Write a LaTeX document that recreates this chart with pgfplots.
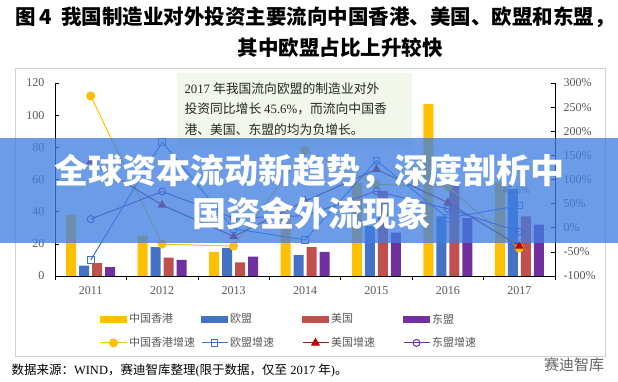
\documentclass[border=0pt]{standalone}
\usepackage{fontspec}
\usepackage{pgfplots}
\pgfplotsset{compat=1.18}
\setmainfont{Liberation Serif}
\newfontfamily\cjk{Noto Sans CJK SC}
\definecolor{hk}{HTML}{FFC000}
\definecolor{eu}{HTML}{4472C4}
\definecolor{us}{HTML}{C0504D}
\definecolor{as}{HTML}{7030A0}
\definecolor{usline}{HTML}{8B1E1E}
\definecolor{ustri}{HTML}{C00000}
\definecolor{tickc}{HTML}{595959}
\definecolor{boxg}{HTML}{F1F7EB}
\definecolor{banner}{RGB}{62,126,226}
\begin{document}
\begin{tikzpicture}[x=1pt,y=1pt]
\useasboundingbox (0pt,0pt) rectangle (618pt,382pt);
\fill[white] (0pt,0pt) rectangle (618pt,382pt);
% outer frame
\draw[black!18, line width=0.8pt] (15pt,26pt) rectangle (605pt,314pt);
% title
\node[font=\cjk\bfseries\fontsize{20.5}{24}\selectfont] at (315pt,365pt) {图\,4\ \ 我国制造业对外投资主要流向中国香港、美国、欧盟和东盟，};
\node[font=\cjk\bfseries\fontsize{20.5}{24}\selectfont] at (340pt,334pt) {其中欧盟占比上升较快};
% annotation box
\fill[boxg] (177pt,232pt) rectangle (412pt,309pt);
\node[anchor=north west, align=left, text=black!85, font=\cjk\fontsize{12.8}{20.5}\selectfont] at (181pt,303pt)
{{\rmfamily 2017} 年我国流向欧盟的制造业对外\\投资同比增长 {\rmfamily 45.6\%}，而流向中国香\\港、美国、东盟的均为负增长。};

\begin{axis}[
  at={(55pt,106pt)}, anchor=south west,
  width=500pt, height=193pt, scale only axis,
  xmin=-0.5, xmax=6.5, ymin=0, ymax=120,
  axis x line*=bottom, axis y line*=left,
  axis line style={black, line width=0.7pt},
  tick style={black, line width=0.6pt},
  tick align=inside, major tick length=4pt, minor tick length=4pt,
  ybar=3pt, bar width=10pt,
  xtick={0,1,2,3,4,5,6},
  xticklabels={2011,2012,2013,2014,2015,2016,2017},
  major x tick style={draw=none},
  minor xtick={-0.5,0.5,1.5,2.5,3.5,4.5,5.5,6.5},
  ytick={0,20,40,60,80,100,120},
  yticklabels={0,20,40,60,80,100,120},
  ticklabel style={font=\fontsize{12}{12}\selectfont, text=tickc},
  yticklabel style={xshift=-7pt},
  xticklabel style={yshift=-3pt},
]
\addplot[fill=hk, draw=none] coordinates {(0,38) (1,25) (2,15) (3,39) (4,58) (5,107) (6,58)};
\addplot[fill=eu, draw=none] coordinates {(0,6.5) (1,18) (2,17.5) (3,13) (4,31) (5,37) (6,54)};
\addplot[fill=us, draw=none] coordinates {(0,8) (1,11.5) (2,8.5) (3,18) (4,53) (5,57) (6,37)};
\addplot[fill=as, draw=none] coordinates {(0,5.5) (1,10) (2,12) (3,15) (4,27) (5,36) (6,32)};
\end{axis}

\begin{axis}[
  at={(55pt,106pt)}, anchor=south west,
  width=500pt, height=193pt, scale only axis,
  xmin=-0.5, xmax=6.5, ymin=-100, ymax=300,
  axis x line=none, axis y line*=right,
  axis line style={black, line width=0.7pt},
  tick style={black, line width=0.6pt},
  tick align=inside, major tick length=4pt,
  ytick={-100,-50,0,50,100,150,200,250,300},
  yticklabels={-100\%,-50\%,0\%,50\%,100\%,150\%,200\%,250\%,300\%},
  ticklabel style={font=\fontsize{12}{12}\selectfont, text=tickc},
  yticklabel style={xshift=5pt},
  clip=false,
  legend columns=4,
  legend cell align=left,
  legend image code/.code={\draw[mark repeat=2,mark phase=2,#1] plot coordinates {(0pt,0pt) (13pt,0pt) (26pt,0pt)};},
  legend style={at={(0.494,-0.285)}, anchor=center, draw=none, fill=none,
    font=\cjk\fontsize{11}{11}\selectfont, text=tickc,
    nodes={text width=70pt, align=left},
    row sep=9pt},
]
\addlegendimage{legend image code/.code={\fill[hk] (0pt,-3pt) rectangle (26pt,3pt);}}
\addlegendimage{legend image code/.code={\fill[eu] (0pt,-3pt) rectangle (26pt,3pt);}}
\addlegendimage{legend image code/.code={\fill[us] (0pt,-3pt) rectangle (26pt,3pt);}}
\addlegendimage{legend image code/.code={\fill[as] (0pt,-3pt) rectangle (26pt,3pt);}}
\addplot[hk, line width=1pt, mark=*, mark size=4pt, mark options={fill=hk, draw=hk}]
  coordinates {(0,273) (1,-34) (2,-38) (3,160) (4,90) (5,85) (6,-42)};
\addplot[eu, line width=1pt, mark=square, mark size=3.3pt, mark options={fill=white, draw=eu}]
  coordinates {(0,-67) (1,178) (2,-2) (3,-25) (4,139) (5,20) (6,46)};
\addplot[usline, line width=1pt, mark=triangle*, mark size=4.2pt, mark options={fill=ustri, draw=ustri}]
  coordinates {(0,137) (1,47) (2,-18) (3,55) (4,121) (5,52) (6,-38)};
\addplot[as, line width=1pt, mark=o, mark size=3.5pt, mark options={fill=white, draw=as}]
  coordinates {(0,18) (1,75) (2,20) (3,25) (4,76) (5,39) (6,-8)};
\legend{中国香港,欧盟,美国,东盟,中国香港增速,欧盟增速,美国增速,东盟增速}
\node[font=\fontsize{10.5}{10.5}\selectfont, text=tickc, above, yshift=8pt, xshift=-3pt] at (axis cs:6,46) {45.6\%};
\end{axis}

% source
\node[anchor=west, font=\fontsize{12.5}{13}\selectfont] at (8pt,11pt) {{\cjk 数据来源：}WIND{\cjk ，赛迪智库整理}({\cjk 限于数据，仅至} 2017 {\cjk 年}){\cjk 。}};
\node[font=\cjk\fontsize{15}{15}\selectfont, text=black!60] at (574pt,17pt) {赛迪智库};

% banner overlay
\fill[banner, opacity=0.76] (0pt,139pt) rectangle (618pt,244pt);
\node[text=white, font=\cjk\bfseries\fontsize{34}{34}\selectfont] at (309pt,211pt) {全球资本流动新趋势，深度剖析中};
\node[text=white, font=\cjk\bfseries\fontsize{34}{34}\selectfont] at (311pt,169pt) {国资金外流现象};
\end{tikzpicture}
\end{document}
